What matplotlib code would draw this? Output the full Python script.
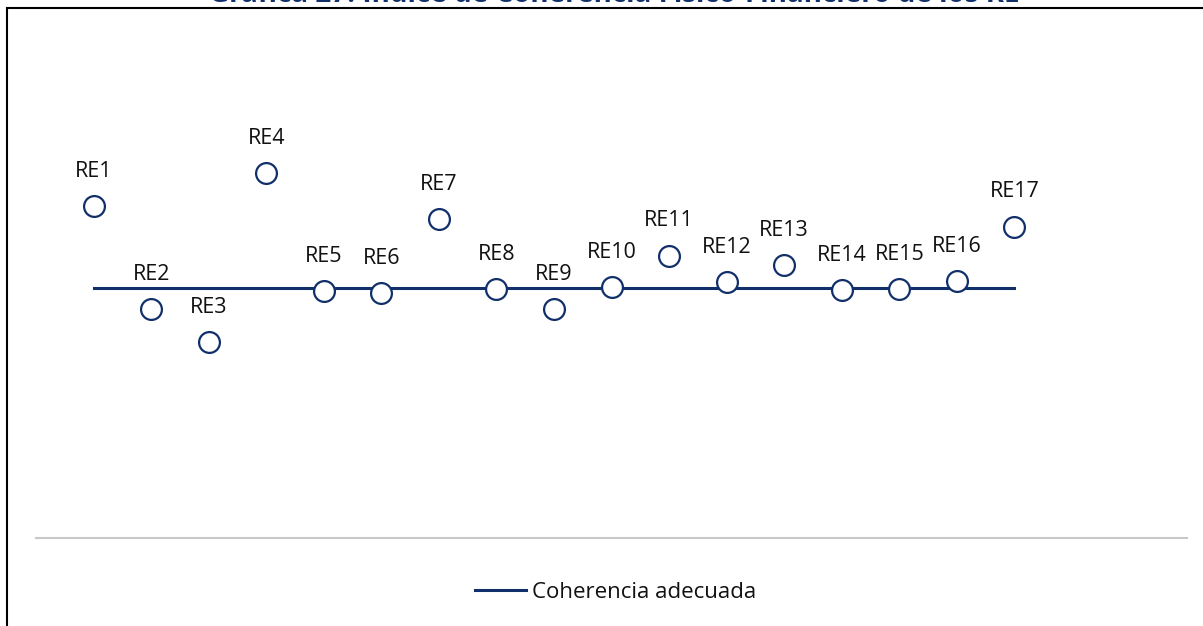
import matplotlib.pyplot as plt
from matplotlib.patches import Rectangle

plt.rcParams['font.family'] = ['Open Sans', 'DejaVu Sans']

labels = ['RE1', 'RE2', 'RE3', 'RE4', 'RE5', 'RE6', 'RE7', 'RE8', 'RE9',
          'RE10', 'RE11', 'RE12', 'RE13', 'RE14', 'RE15', 'RE16', 'RE17']
x_pos = list(range(1, 18))
indice = [1.33, 0.916, 0.785, 1.46, 0.989, 0.982, 1.276, 0.996, 0.918,
          1.006, 1.131, 1.025, 1.092, 0.993, 0.998, 1.03, 1.247]
coherencia = [1.0] * 17

NAVY = '#112f6b'
TXT = '#111111'

fig = plt.figure(figsize=(12.03, 6.26), dpi=100)
ax = fig.add_axes([36 / 1203, 1 - 538 / 626, (1187 - 36) / 1203, (538 - 38.6) / 626])

ax.plot(x_pos, coherencia, color=NAVY, lw=2.2, label='Coherencia adecuada', zorder=2)
ax.plot(x_pos, indice, ls='none', marker='o', ms=15, mfc='white', mec=NAVY, mew=1.6, zorder=3)

for xi, yi, lab in zip(x_pos, indice, labels):
    ax.annotate(lab, (xi, yi), xytext=(0, 21), textcoords='offset points',
                ha='center', va='baseline', fontsize=15.5, color=TXT)

ax.set_xlim(0, 20)
ax.set_ylim(0, 2)
ax.set_xticks([])
ax.set_yticks([])
for s in ['top', 'right', 'left']:
    ax.spines[s].set_visible(False)
ax.spines['bottom'].set_color('#c8c8c8')
ax.spines['bottom'].set_linewidth(1.5)
ax.patch.set_alpha(0)

# frame around the chart (runs off the right and bottom edges)
fig.patches.append(Rectangle((6.7 / 1203, -0.2), 1.2, 1.2 - 8.2 / 626, transform=fig.transFigure,
                             fill=False, ec='black', lw=1.5, zorder=0))

fig.text(614 / 1203, 1 - 2.0 / 626,
         'Gráfica 27. Índice de Coherencia Físico-Financiero de los RE',
         ha='center', va='baseline', fontsize=20, fontweight='bold', color=NAVY)

fig.legend(loc='center', bbox_to_anchor=(615.5 / 1203, 1 - 592 / 626), frameon=False,
           fontsize=16, handlelength=2.3, handletextpad=0.25, labelcolor=TXT)

fig.savefig('out.png', dpi=100)
